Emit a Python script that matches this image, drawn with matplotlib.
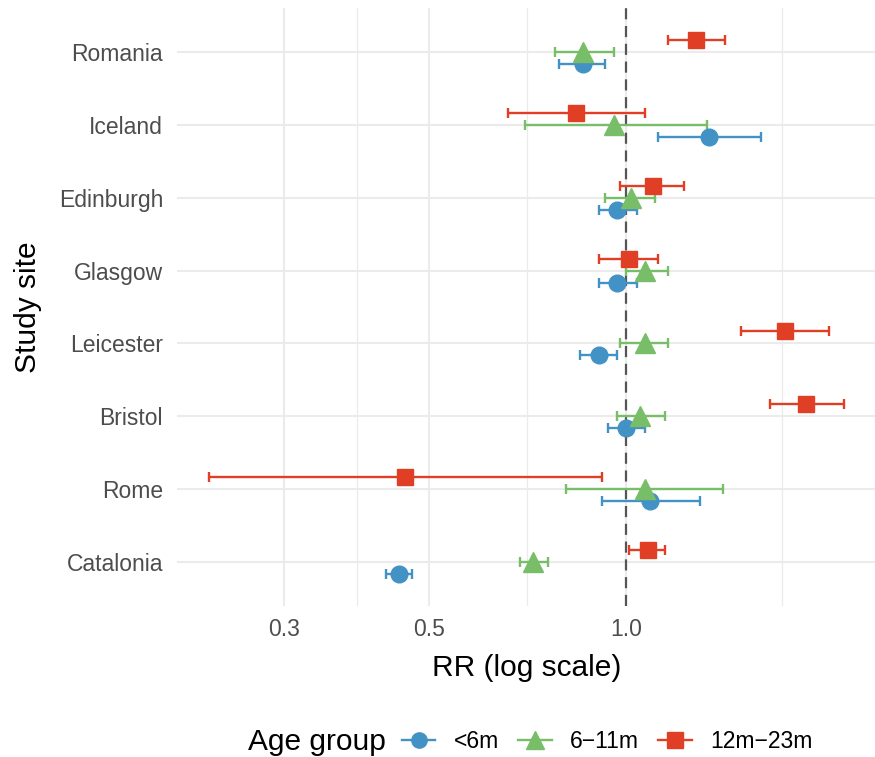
import matplotlib
matplotlib.use("Agg")
import matplotlib.pyplot as plt
from matplotlib.lines import Line2D
import numpy as np

plt.rcParams['font.family'] = ['Liberation Sans', 'DejaVu Sans']

# study sites, top to bottom
sites = ["Romania", "Iceland", "Edinburgh", "Glasgow", "Leicester", "Bristol", "Rome", "Catalonia"]
groups = ["<6m", "6\u221211m", "12m\u221223m"]

# rate ratios and 95% CI per age group (same order as sites)
rr_lt6 = [0.86, 1.34, 0.97, 0.97, 0.91, 1.00, 1.09, 0.45]
lo_lt6 = [0.79, 1.12, 0.91, 0.91, 0.85, 0.94, 0.92, 0.43]
hi_lt6 = [0.93, 1.61, 1.04, 1.04, 0.97, 1.07, 1.30, 0.47]

rr_6_11 = [0.86, 0.96, 1.02, 1.07, 1.07, 1.05, 1.07, 0.72]
lo_6_11 = [0.78, 0.70, 0.93, 1.00, 0.98, 0.97, 0.81, 0.69]
hi_6_11 = [0.96, 1.33, 1.11, 1.16, 1.16, 1.15, 1.41, 0.76]

rr_12_23 = [1.28, 0.84, 1.10, 1.01, 1.75, 1.89, 0.46, 1.08]
lo_12_23 = [1.16, 0.66, 0.98, 0.91, 1.50, 1.66, 0.23, 1.01]
hi_12_23 = [1.42, 1.07, 1.23, 1.12, 2.05, 2.16, 0.92, 1.15]

x_breaks = [0.3, 0.5, 1.0]
x_minor = [np.sqrt(0.3 * 0.5), np.sqrt(0.5 * 1.0), np.sqrt(1.0 * 3.0)]

colors = ["#4292C6", "#78BE68", "#E03F26"]
markers = ["o", "^", "s"]
msizes = [12, 14, 12]
offsets = [-0.165, 0.0, 0.165]

series = [
    (rr_lt6, lo_lt6, hi_lt6),
    (rr_6_11, lo_6_11, hi_6_11),
    (rr_12_23, lo_12_23, hi_12_23),
]

W, H = 875, 757
fig = plt.figure(figsize=(W / 100, H / 100), dpi=100)
ax = fig.add_axes([177 / W, 1 - 606 / H, (876 - 177) / W, (606 - 8) / H])

n = len(sites)
ypos = np.arange(n)[::-1]

# grid
for xm in x_minor:
    ax.axvline(xm, color="#EBEBEB", lw=0.9, zorder=0)
for xb in x_breaks:
    ax.axvline(xb, color="#EBEBEB", lw=1.5, zorder=0)
for yy in ypos:
    ax.axhline(yy, color="#EBEBEB", lw=1.5, zorder=0)

ax.axvline(1.0, color="#555555", lw=1.6, dashes=(5, 3), zorder=1)

for (rr, lo, hi), c, m, ms, off in zip(series, colors, markers, msizes, offsets):
    rr = np.array(rr); lo = np.array(lo); hi = np.array(hi)
    ax.errorbar(rr, ypos + off, xerr=[rr - lo, hi - rr], fmt=m, ms=ms, color=c,
                mec=c, elinewidth=1.7, capsize=3.5, capthick=1.7, zorder=3)

ax.set_xscale("log")
all_lo = np.log10(np.concatenate([lo_lt6, lo_6_11, lo_12_23]))
all_hi = np.log10(np.concatenate([hi_lt6, hi_6_11, hi_12_23]))
span = all_hi.max() - all_lo.min()
ax.set_xlim(10 ** (all_lo.min() - 0.05 * span), 10 ** (all_hi.max() + 0.05 * span))
ax.set_ylim(-0.6, n - 1 + 0.6)

ax.set_xticks(x_breaks)
ax.set_xticklabels([f"{b:.1f}" for b in x_breaks])
ax.xaxis.set_minor_locator(matplotlib.ticker.NullLocator())
ax.set_yticks(ypos)
ax.set_yticklabels(sites)
ax.tick_params(axis="both", length=0, labelsize=16.5, labelcolor="#4D4D4D")
ax.tick_params(axis="y", pad=10)
ax.tick_params(axis="x", pad=9)
for s in ax.spines.values():
    s.set_visible(False)

ax.set_xlabel("RR (log scale)", fontsize=21.5, labelpad=9)
ax.set_ylabel("Study site", fontsize=21.5, labelpad=12)

# legend at the bottom
fig.text(248 / W, 1 - 742 / H, "Age group", fontsize=21.5, ha="left", va="center")
handles = [Line2D([], [], color=c, marker=m, ms=ms - 1, lw=1.7)
           for c, m, ms in zip(colors, markers, msizes)]
fig.legend(handles, groups, loc="center left", bbox_to_anchor=(402 / W, 1 - 742 / H),
           ncol=3, frameon=False, fontsize=16.5, handlelength=1.45, handletextpad=0.8,
           columnspacing=0.85, borderaxespad=0, borderpad=0)

fig.savefig("out.png", dpi=100)
